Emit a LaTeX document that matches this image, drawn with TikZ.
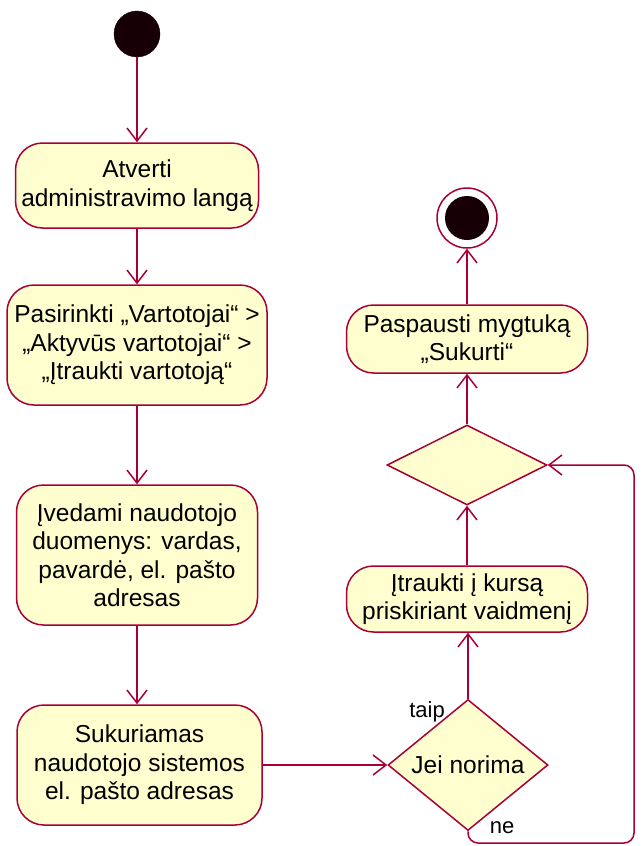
\documentclass[tikz,border=0pt]{standalone}
\usepackage{fontspec}
\setmainfont{Liberation Sans}
\usetikzlibrary{shapes.geometric,arrows.meta}

\definecolor{actfill}{HTML}{FEFECE}
\definecolor{actline}{HTML}{A80036}
\definecolor{dotfill}{HTML}{160006}

\tikzset{
  act/.style={draw=actline, fill=actfill, line width=1.5pt, rounded corners=27pt,
    align=center, inner sep=0pt, font=\fontsize{24.5}{28.5}\selectfont},
  decision/.style={draw=actline, fill=actfill, line width=1.5pt, shape=diamond,
    inner sep=0pt, minimum width=160pt, minimum height=80pt,
    font=\fontsize{24.5}{28.5}\selectfont},
  startdot/.style={circle, fill=dotfill, draw=dotfill, minimum size=46pt, inner sep=0pt},
  flow/.style={draw=actline, line width=1.5pt,
    -{Straight Barb[length=13pt,width=20pt,line width=1.5pt]}},
  guard/.style={font=\fontsize{22}{26}\selectfont, inner sep=0pt},
}

\begin{document}
\begin{tikzpicture}[x=1pt,y=-1pt]
  \useasboundingbox (0,0) rectangle (643,846);

  % left column
  \node[startdot] (start) at (137,34) {};
  \node[act, minimum width=243pt, minimum height=85pt] (open) at (137,185.5)
    {Atverti\\administravimo langą};
  \node[act, minimum width=260pt, minimum height=120pt] (menu) at (137,345)
    {Pasirinkti „Vartotojai“ >\\„Aktyvūs vartotojai“ >\\„Įtraukti vartotoją“};
  \node[act, minimum width=241pt, minimum height=140pt] (input) at (137,555)
    {Įvedami naudotojo\\duomenys: vardas,\\pavardė, el. pašto\\adresas};
  \node[act, minimum width=245pt, minimum height=120pt] (create) at (139.5,765)
    {Sukuriamas\\naudotojo sistemos\\el. pašto adresas};

  % right column
  \node[decision] (want) at (468,765) {Jei norima};
  \node[act, minimum width=241pt, minimum height=66pt] (enrol) at (467,599)
    {Įtraukti į kursą\\priskiriant vaidmenį};
  \node[decision] (merge) at (467,465) {};
  \node[act, minimum width=241pt, minimum height=68pt] (submit) at (467,339)
    {Paspausti mygtuką\\„Sukurti“};

  % final node: ring around a filled dot
  \node[circle, draw=actline, fill=white, line width=1.5pt, minimum size=60pt,
    inner sep=0pt] (stop) at (467,218) {};
  \node[circle, fill=dotfill, minimum size=44pt, inner sep=0pt] (stopdot) at (stop) {};

  % flows
  \draw[flow] (start) -- (open);
  \draw[flow] (open) -- (menu);
  \draw[flow] (menu) -- (input);
  \draw[flow] (input) -- (create.north -| input);
  \draw[flow] (create.east |- want) -- (want.west);
  \draw[flow] (want.north) -- (enrol.south -| want.north);
  \draw[flow] (enrol.north -| merge) -- (merge.south);
  \draw[flow] (merge.north) -- (submit.south);
  \draw[flow] (submit.north) -- (stop.south);

  % "ne" branch loops back to the merge
  \coordinate (loopA) at (468,843);
  \coordinate (loopB) at (634,843);
  \coordinate (loopC) at (634,465);
  \draw[flow, rounded corners=10pt] (want.south) -- (loopA) -- (loopB) -- (loopC) -- (merge.east);

  \node[guard] (yes) at (427,712) {taip};
  \node[guard] (no) at (502,828) {ne};
\end{tikzpicture}
\end{document}
